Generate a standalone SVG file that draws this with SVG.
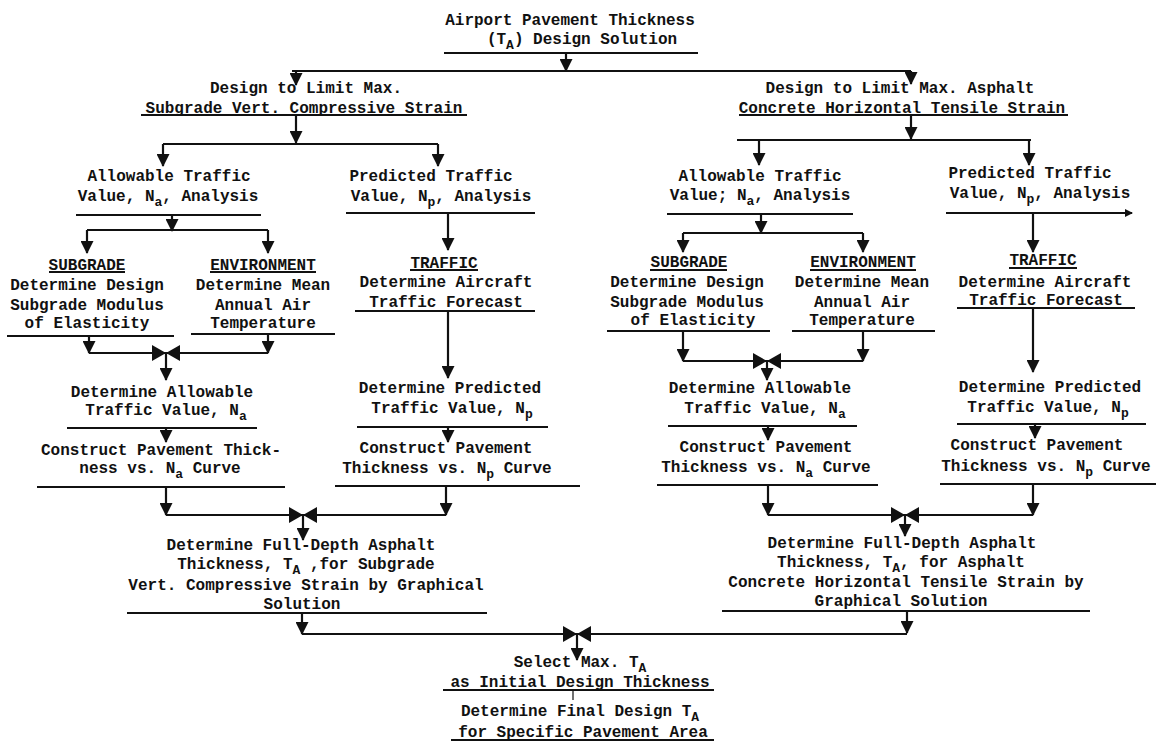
<svg xmlns="http://www.w3.org/2000/svg" width="1156" height="749" viewBox="0 0 1156 749">
<style>
text{font-family:"Liberation Mono","DejaVu Sans Mono",monospace;font-size:16px;font-weight:bold;fill:#111;text-anchor:middle}
.sub{font-size:13px}
.ul{stroke:#111;stroke-width:2;fill:none}
.c{stroke:#111;stroke-width:2.2;fill:none}
.a{marker-end:url(#ah)}
.as{marker-end:url(#ahs)}
</style>
<defs>
<marker id="ah" viewBox="0 0 13 13" refX="12" refY="6.5" markerWidth="13" markerHeight="13" markerUnits="userSpaceOnUse" orient="auto"><path d="M0,0 L13,6.5 L0,13 z" fill="#111"/></marker>
<marker id="ahs" viewBox="0 0 8 8" refX="7" refY="4" markerWidth="8" markerHeight="8" markerUnits="userSpaceOnUse" orient="auto"><path d="M0,0 L8,4 L0,8 z" fill="#111"/></marker>
<g id="bow" fill="#111"><polygon points="-14,-8 0,0 -14,8"/><polygon points="14,-8 0,0 14,8"/></g>
</defs>
<rect width="1156" height="749" fill="#fff"/>

<g id="title">
<text x="570" y="25">Airport Pavement Thickness</text>
<text x="582" y="44">(T<tspan class="sub" dy="5">A</tspan><tspan dy="-5">) Design Solution</tspan></text>
<line class="ul" x1="444" y1="53" x2="698" y2="53"/>
</g>

<g id="designL">
<text x="306" y="93">Design to Limit Max.</text>
<text x="304" y="113">Subgrade Vert. Compressive Strain</text>
<line class="ul" x1="141" y1="115" x2="467" y2="115"/>
</g>
<g id="designR">
<text x="900" y="93">Design to Limit Max. Asphalt</text>
<text x="902" y="113">Concrete Horizontal Tensile Strain</text>
<line class="ul" x1="739" y1="115" x2="1068" y2="115"/>
</g>

<g id="allowL">
<text x="169" y="181">Allowable Traffic</text>
<text x="168" y="201">Value, N<tspan class="sub" dy="5">a</tspan><tspan dy="-5">, Analysis</tspan></text>
<line class="ul" x1="76" y1="215" x2="261" y2="215"/>
</g>
<g id="predL">
<text x="431" y="181">Predicted Traffic</text>
<text x="441" y="201">Value, N<tspan class="sub" dy="5">p</tspan><tspan dy="-5">, Analysis</tspan></text>
<line class="ul" x1="346" y1="213" x2="535" y2="213"/>
</g>
<g id="allowR">
<text x="760" y="181">Allowable Traffic</text>
<text x="760" y="200">Value; N<tspan class="sub" dy="5">a</tspan><tspan dy="-5">, Analysis</tspan></text>
<line class="ul" x1="667" y1="214" x2="853" y2="214"/>
</g>
<g id="predR">
<text x="1030" y="178">Predicted Traffic</text>
<text x="1040" y="198">Value, N<tspan class="sub" dy="5">p</tspan><tspan dy="-5">, Analysis</tspan></text>
<line class="ul as" x1="946" y1="213" x2="1132" y2="213"/>
</g>

<g id="subgradeL">
<text x="87" y="270">SUBGRADE</text>
<line class="ul" x1="49" y1="272" x2="125" y2="272"/>
<text x="87" y="290">Determine Design</text>
<text x="87" y="310">Subgrade Modulus</text>
<text x="87" y="328">of Elasticity</text>
<line class="ul" x1="7" y1="336" x2="174" y2="336"/>
</g>
<g id="envL">
<text x="263" y="270">ENVIRONMENT</text>
<line class="ul" x1="210" y1="272" x2="316" y2="272"/>
<text x="263" y="290">Determine Mean</text>
<text x="263" y="310">Annual Air</text>
<text x="263" y="328">Temperature</text>
<line class="ul" x1="191" y1="334" x2="335" y2="334"/>
</g>
<g id="trafficL">
<text x="444" y="268">TRAFFIC</text>
<line class="ul" x1="410" y1="270" x2="478" y2="270"/>
<text x="446" y="287">Determine Aircraft</text>
<text x="446" y="307">Traffic Forecast</text>
<line class="ul" x1="355" y1="311" x2="535" y2="311"/>
</g>
<g id="subgradeR">
<text x="689" y="267">SUBGRADE</text>
<line class="ul" x1="650" y1="270" x2="727" y2="270"/>
<text x="687" y="287">Determine Design</text>
<text x="687" y="307">Subgrade Modulus</text>
<text x="693" y="325">of Elasticity</text>
<line class="ul" x1="607" y1="331" x2="770" y2="331"/>
</g>
<g id="envR">
<text x="863" y="267">ENVIRONMENT</text>
<line class="ul" x1="810" y1="270" x2="916" y2="270"/>
<text x="862" y="287">Determine Mean</text>
<text x="862" y="307">Annual Air</text>
<text x="862" y="325">Temperature</text>
<line class="ul" x1="792" y1="331" x2="935" y2="331"/>
</g>
<g id="trafficR">
<text x="1043" y="265">TRAFFIC</text>
<line class="ul" x1="1009" y1="268" x2="1077" y2="268"/>
<text x="1045" y="287">Determine Aircraft</text>
<text x="1046" y="305">Traffic Forecast</text>
<line class="ul" x1="957" y1="308" x2="1135" y2="308"/>
</g>

<g id="detAllowL">
<text x="162" y="397">Determine Allowable</text>
<text x="166" y="415">Traffic Value, N<tspan class="sub" dy="5">a</tspan></text>
<line class="ul" x1="67" y1="428" x2="257" y2="428"/>
</g>
<g id="constructL">
<text x="161" y="455">Construct Pavement Thick-</text>
<text x="160" y="473">ness vs. N<tspan class="sub" dy="5">a</tspan><tspan dy="-5"> Curve</tspan></text>
<line class="ul" x1="37" y1="487" x2="285" y2="487"/>
</g>
<g id="detPredL">
<text x="450" y="393">Determine Predicted</text>
<text x="452" y="413">Traffic Value, N<tspan class="sub" dy="5">p</tspan></text>
<line class="ul" x1="357" y1="427" x2="548" y2="427"/>
</g>
<g id="constructPL">
<text x="446" y="453">Construct Pavement</text>
<text x="447" y="473">Thickness vs. N<tspan class="sub" dy="5">p</tspan><tspan dy="-5"> Curve</tspan></text>
<line class="ul" x1="335" y1="486" x2="580" y2="486"/>
</g>
<g id="detAllowR">
<text x="760" y="393">Determine Allowable</text>
<text x="765" y="413">Traffic Value, N<tspan class="sub" dy="5">a</tspan></text>
<line class="ul" x1="668" y1="426" x2="857" y2="426"/>
</g>
<g id="constructR">
<text x="766" y="452">Construct Pavement</text>
<text x="766" y="472">Thickness vs. N<tspan class="sub" dy="5">a</tspan><tspan dy="-5"> Curve</tspan></text>
<line class="ul" x1="657" y1="485" x2="878" y2="485"/>
</g>
<g id="detPredR">
<text x="1050" y="392">Determine Predicted</text>
<text x="1048" y="412">Traffic Value,  N<tspan class="sub" dy="5">p</tspan></text>
<line class="ul" x1="957" y1="424" x2="1146" y2="424"/>
</g>
<g id="constructPR">
<text x="1037" y="450">Construct Pavement</text>
<text x="1046" y="471">Thickness vs. N<tspan class="sub" dy="5">p</tspan><tspan dy="-5"> Curve</tspan></text>
<line class="ul" x1="940" y1="484" x2="1156" y2="484"/>
</g>

<g id="fullDepthL">
<text x="301" y="550">Determine Full-Depth Asphalt</text>
<text x="306" y="569">Thickness, T<tspan class="sub" dy="5">A</tspan><tspan dy="-5"> ,for Subgrade</tspan></text>
<text x="306" y="590">Vert. Compressive Strain by Graphical</text>
<text x="302" y="609">Solution</text>
<line class="ul" x1="127" y1="613" x2="487" y2="613"/>
</g>
<g id="fullDepthR">
<text x="902" y="548">Determine Full-Depth Asphalt</text>
<text x="901" y="567">Thickness, T<tspan class="sub" dy="5">A</tspan><tspan dy="-5">, for Asphalt</tspan></text>
<text x="906" y="587">Concrete Horizontal Tensile Strain by</text>
<text x="901" y="606">Graphical Solution</text>
<line class="ul" x1="722" y1="611" x2="1090" y2="611"/>
</g>

<g id="selectMax">
<text x="580" y="667">Select Max. T<tspan class="sub" dy="5">A</tspan></text>
<text x="580" y="687">as Initial Design Thickness</text>
<line class="ul" x1="443" y1="690" x2="714" y2="690"/>
</g>
<g id="finalDesign">
<text x="580" y="716">Determine Final Design T<tspan class="sub" dy="5">A</tspan></text>
<text x="583" y="737">for Specific Pavement Area</text>
<line class="ul" x1="451" y1="740" x2="714" y2="740"/>
</g>

<g id="connectors">
<line class="c a" x1="566" y1="53" x2="566" y2="71"/>
<line class="c" x1="292" y1="71" x2="911" y2="71"/>
<line class="c a" x1="296" y1="71" x2="296" y2="85"/>
<line class="c a" x1="911" y1="71" x2="911" y2="84"/>

<line class="c a" x1="296" y1="115" x2="296" y2="143"/>
<line class="c" x1="163" y1="144" x2="438" y2="144"/>
<line class="c a" x1="163" y1="144" x2="163" y2="166"/>
<line class="c a" x1="438" y1="144" x2="438" y2="166"/>

<line class="c a" x1="911" y1="115" x2="911" y2="139"/>
<line class="c" x1="737" y1="140" x2="1031" y2="140"/>
<line class="c a" x1="759" y1="140" x2="759" y2="165"/>
<line class="c a" x1="1029" y1="140" x2="1029" y2="165"/>

<line class="c a" x1="172" y1="215" x2="172" y2="231"/>
<line class="c" x1="87" y1="230" x2="268" y2="230"/>
<line class="c a" x1="87" y1="230" x2="87" y2="253"/>
<line class="c a" x1="268" y1="230" x2="268" y2="253"/>
<line class="c a" x1="448" y1="213" x2="448" y2="250"/>

<line class="c a" x1="761" y1="214" x2="761" y2="233"/>
<line class="c" x1="683" y1="233" x2="863" y2="233"/>
<line class="c a" x1="683" y1="233" x2="683" y2="252"/>
<line class="c a" x1="863" y1="233" x2="863" y2="252"/>
<line class="c a" x1="1033" y1="213" x2="1033" y2="252"/>

<line class="c a" x1="89" y1="336" x2="89" y2="353"/>
<line class="c a" x1="268" y1="334" x2="268" y2="353"/>
<line class="c" x1="89" y1="353" x2="268" y2="353"/>
<use href="#bow" x="166" y="353"/>
<line class="c a" x1="166" y1="353" x2="166" y2="380"/>
<line class="c a" x1="448" y1="311" x2="448" y2="378"/>

<line class="c a" x1="683" y1="331" x2="683" y2="361"/>
<line class="c a" x1="863" y1="331" x2="863" y2="361"/>
<line class="c" x1="683" y1="361" x2="863" y2="361"/>
<use href="#bow" x="767" y="361"/>
<line class="c a" x1="767" y1="361" x2="767" y2="380"/>
<line class="c a" x1="1033" y1="308" x2="1033" y2="372"/>

<line class="c a" x1="166" y1="428" x2="166" y2="442"/>
<line class="c a" x1="448" y1="427" x2="448" y2="442"/>
<line class="c a" x1="166" y1="487" x2="166" y2="515"/>
<line class="c a" x1="446" y1="486" x2="446" y2="515"/>
<line class="c" x1="166" y1="515" x2="446" y2="515"/>
<use href="#bow" x="303" y="515"/>
<line class="c a" x1="303" y1="515" x2="303" y2="540"/>

<line class="c a" x1="768" y1="426" x2="768" y2="440"/>
<line class="c a" x1="1035" y1="424" x2="1035" y2="438"/>
<line class="c a" x1="768" y1="485" x2="768" y2="515"/>
<line class="c a" x1="1033" y1="484" x2="1033" y2="515"/>
<line class="c" x1="768" y1="515" x2="1033" y2="515"/>
<use href="#bow" x="905" y="515"/>
<line class="c a" x1="905" y1="515" x2="905" y2="536"/>

<line class="c a" x1="302" y1="613" x2="302" y2="634"/>
<line class="c a" x1="907" y1="611" x2="907" y2="633"/>
<line class="c" x1="302" y1="634" x2="907" y2="634"/>
<use href="#bow" x="577" y="634"/>
<line class="c a" x1="577" y1="634" x2="577" y2="660"/>
<line x1="573" y1="690" x2="573" y2="700" stroke="#111" stroke-width="1.2"/>
</g>
</svg>
